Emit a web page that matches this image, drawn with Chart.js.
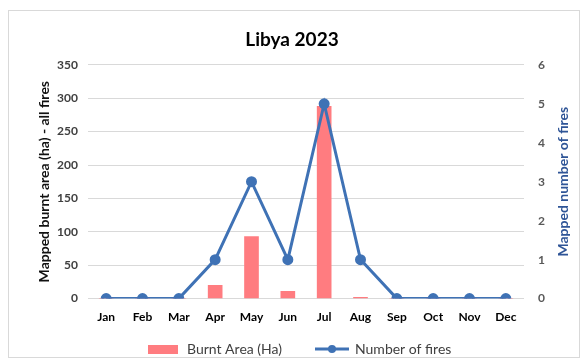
<!DOCTYPE html>
<html>
<head>
<meta charset="utf-8">
<script src="https://cdn.jsdelivr.net/npm/chart.js@4"></script>
<style>
  body { margin: 0; background: #fff; }
  #wrap { width: 584px; height: 360px; }
</style>
</head>
<body>
<div id="wrap"><canvas id="myChart" width="584" height="360"></canvas></div>
<script>
var months = ["Jan", "Feb", "Mar", "Apr", "May", "Jun", "Jul", "Aug", "Sep", "Oct", "Nov", "Dec"];
var burntArea = [0, 0, 0, 20, 93, 11, 288, 2, 0, 0, 0, 0];
var fireCount = [0, 0, 0, 1, 3, 1, 5, 1, 0, 0, 0, 0];
var areaTicks = [0, 50, 100, 150, 200, 250, 300, 350];
var countTicks = [0, 1, 2, 3, 4, 5, 6];

var barColor = "#ff7c80";
var lineColor = "#3f72b5";
var font = "Lato, 'Open Sans', sans-serif";

// frame, right axis title and legend drawn by hand, Excel style
var extras = {
    id: "extras",
    afterDraw: function(chart) {
        var ctx = chart.ctx;
        var area = chart.chartArea;
        ctx.save();
        ctx.strokeStyle = "#d9d9d9";
        ctx.lineWidth = 1;
        ctx.strokeRect(8.5, 10.5, 571, 347);

        // right axis title reads bottom to top
        ctx.save();
        ctx.translate(563, (area.top + area.bottom) / 2);
        ctx.rotate(-Math.PI / 2);
        ctx.font = "bold 14px " + font;
        ctx.fillStyle = "#2f5597";
        ctx.textAlign = "center";
        ctx.textBaseline = "middle";
        ctx.fillText("Mapped number of fires", 0, 0);
        ctx.restore();

        var y = 349;
        ctx.fillStyle = barColor;
        ctx.fillRect(148, y - 4, 30, 9);
        ctx.font = "14px " + font;
        ctx.fillStyle = "#404040";
        ctx.textBaseline = "middle";
        ctx.fillText("Burnt Area (Ha)", 187, y);

        ctx.strokeStyle = lineColor;
        ctx.lineWidth = 3;
        ctx.beginPath();
        ctx.moveTo(315, y);
        ctx.lineTo(349, y);
        ctx.stroke();
        ctx.fillStyle = lineColor;
        ctx.beginPath();
        ctx.arc(332, y, 4, 0, Math.PI * 2);
        ctx.fill();
        ctx.fillStyle = "#404040";
        ctx.fillText("Number of fires", 355, y);
        ctx.restore();
    }
};

new Chart("myChart", {
    data: {
        labels: months,
        datasets: [{
            type: "line",
            label: "Number of fires",
            data: fireCount,
            yAxisID: "y2",
            borderColor: lineColor,
            backgroundColor: lineColor,
            borderWidth: 3,
            pointRadius: 4,
            pointHoverRadius: 4,
            tension: 0,
            order: 0
        }, {
            type: "bar",
            label: "Burnt Area (Ha)",
            data: burntArea,
            yAxisID: "y",
            backgroundColor: barColor,
            barThickness: 14,
            order: 1
        }]
    },
    options: {
        responsive: false,
        animation: false,
        layout: { padding: { top: 0, bottom: 33, left: 0, right: 0 } },
        plugins: {
            legend: { display: false },
            tooltip: { enabled: false },
            title: {
                display: true,
                text: "Libya 2023",
                color: "#000",
                font: { family: font, size: 19, weight: "bold" },
                padding: { top: 28, bottom: 14 }
            }
        },
        scales: {
            x: {
                grid: { display: false },
                border: { display: false },
                ticks: {
                    color: "#000",
                    padding: 3,
                    maxRotation: 0,
                    font: { family: font, size: 12, weight: "bold" }
                }
            },
            y: {
                position: "left",
                min: 0,
                max: 350,
                afterBuildTicks: function(s) { s.ticks = areaTicks.map(function(v) { return { value: v }; }); },
                afterFit: function(s) { s.width = 88; },
                grid: { color: "#d9d9d9", drawTicks: false },
                border: { display: false },
                ticks: {
                    color: "#404040",
                    padding: 10,
                    font: { family: font, size: 12, weight: "bold" }
                },
                title: {
                    display: true,
                    text: "Mapped burnt area (ha) - all fires",
                    color: "#111",
                    padding: { top: 36, bottom: 0 },
                    font: { family: font, size: 14, weight: "bold" }
                }
            },
            y2: {
                position: "right",
                min: 0,
                max: 6,
                afterBuildTicks: function(s) { s.ticks = countTicks.map(function(v) { return { value: v }; }); },
                afterFit: function(s) { s.width = 60; },
                grid: { drawOnChartArea: false, drawTicks: false },
                border: { display: false },
                ticks: {
                    color: "#595959",
                    padding: 14,
                    font: { family: font, size: 12, weight: "bold" }
                }
            }
        }
    },
    plugins: [extras]
});
</script>
</body>
</html>
